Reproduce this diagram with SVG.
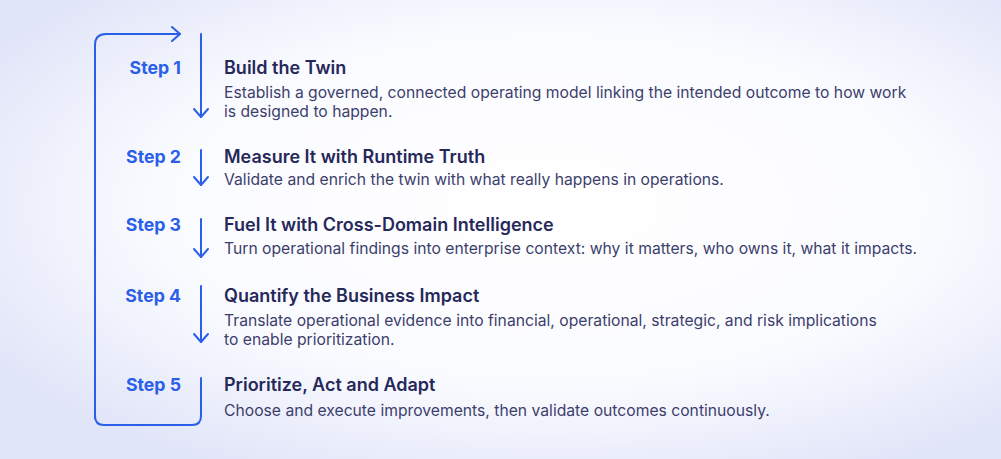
<svg xmlns="http://www.w3.org/2000/svg" width="1001" height="459" viewBox="0 0 1001 459">
<defs>
<radialGradient id="bg" cx="0.55" cy="0.45" r="0.65">
<stop offset="0" stop-color="#ffffff"/>
<stop offset="0.6" stop-color="#fafbff"/>
<stop offset="1" stop-color="#e1e5f8"/>
</radialGradient>
<marker id="ah" viewBox="0 0 16 16" refX="14" refY="8" markerWidth="16" markerHeight="16" markerUnits="userSpaceOnUse" orient="auto">
<path d="M6,1 L14,8 L6,15" fill="none" stroke="#2b5fe8" stroke-width="2" stroke-linecap="round" stroke-linejoin="round"/>
</marker>
<style>
.step{font-family:Inter,"Liberation Sans",sans-serif;font-weight:700;font-size:17.7px;fill:#2b5fe8;text-anchor:end}
.title{font-family:Inter,"Liberation Sans",sans-serif;font-weight:600;font-size:18px;fill:#26285a}
.desc{font-family:Inter,"Liberation Sans",sans-serif;font-weight:400;font-size:15.7px;fill:#3c3e6c}
.ln{fill:none;stroke:#2b5fe8;stroke-width:2;stroke-linecap:round;stroke-linejoin:round}
</style>
</defs>
<rect width="1001" height="459" fill="url(#bg)"/>
<g id="connectors">
<path class="ln" d="M95,418 L95,45 Q95,34 106,34 L180,34" marker-end="url(#ah)"/>
<path class="ln" d="M201,34 L201,117" marker-end="url(#ah)"/>
<path class="ln" d="M201,150 L201,185" marker-end="url(#ah)"/>
<path class="ln" d="M201,219 L201,257" marker-end="url(#ah)"/>
<path class="ln" d="M201,286 L201,342" marker-end="url(#ah)"/>
<path class="ln" d="M201,378 L201,416 Q201,425 192,425 L104,425 Q95,425 95,416 L95,418"/>
</g>
<g id="step1">
<text class="step" x="181" y="74">Step 1</text>
<text class="title" x="224" y="74">Build the Twin</text>
<text class="desc" x="224" y="98">Establish a governed, connected operating model linking the intended outcome to how work</text>
<text class="desc" x="224" y="117">is designed to happen.</text>
</g>
<g id="step2">
<text class="step" x="181" y="163">Step 2</text>
<text class="title" x="224" y="163">Measure It with Runtime Truth</text>
<text class="desc" x="224" y="185">Validate and enrich the twin with what really happens in operations.</text>
</g>
<g id="step3">
<text class="step" x="181" y="231">Step 3</text>
<text class="title" x="224" y="231">Fuel It with Cross-Domain Intelligence</text>
<text class="desc" x="224" y="254">Turn operational findings into enterprise context: why it matters, who owns it, what it impacts.</text>
</g>
<g id="step4">
<text class="step" x="181" y="302">Step 4</text>
<text class="title" x="224" y="302">Quantify the Business Impact</text>
<text class="desc" x="224" y="326">Translate operational evidence into financial, operational, strategic, and risk implications</text>
<text class="desc" x="224" y="345">to enable prioritization.</text>
</g>
<g id="step5">
<text class="step" x="181" y="391">Step 5</text>
<text class="title" x="224" y="391">Prioritize, Act and Adapt</text>
<text class="desc" x="224" y="416">Choose and execute improvements, then validate outcomes continuously.</text>
</g>
</svg>
